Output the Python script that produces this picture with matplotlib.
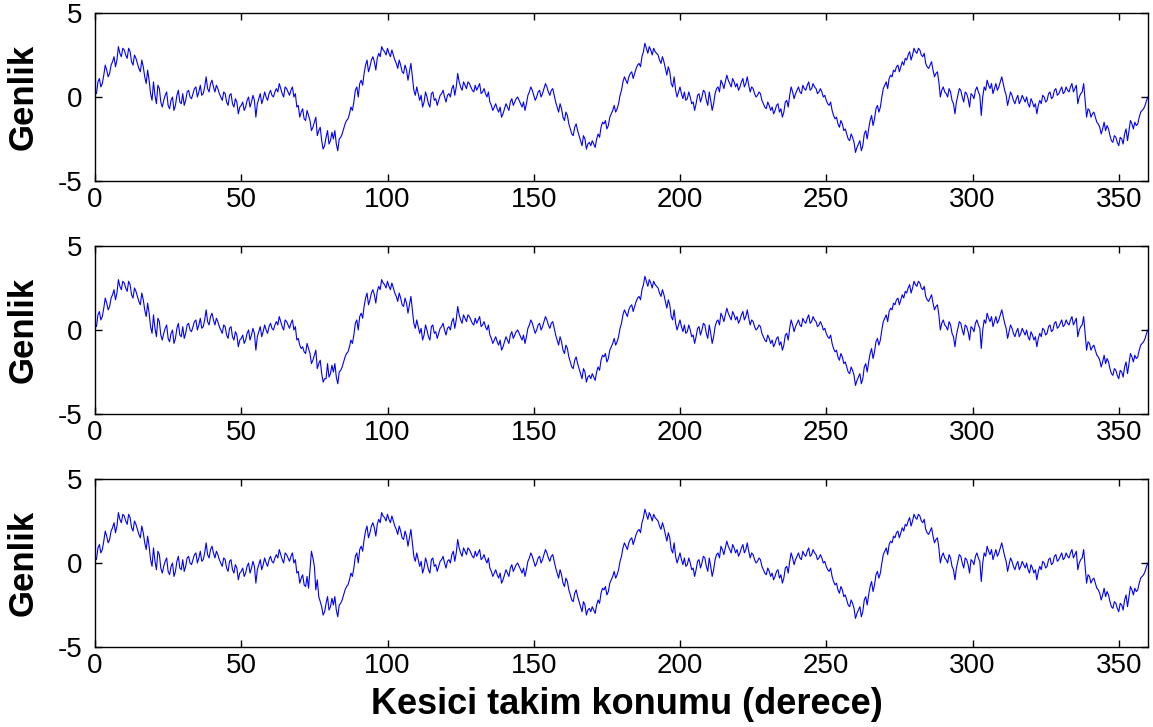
import matplotlib.pyplot as plt
import numpy as np

plt.rcParams['font.family'] = ['Liberation Sans', 'DejaVu Sans']
plt.rcParams['axes.unicode_minus'] = False

# amplitude at whole degrees 0..360
genlik_tam = [
    0.3, 0.9, 0.6, 1.3, 1.6, 1.4, 2.1, 1.8, 3.0, 2.4,
    2.8, 2.3, 2.7, 1.9, 2.3, 1.7, 2.2, 1.2, 1.6, 0.2,
    0.9, -0.4, 0.5, -0.6, 0.1, -0.5, -0.2, -0.8, 0.1, -0.3,
    0.2, -0.2, 0.4, -0.1, 0.5, 0.0, 0.7, 0.2, 1.2, 0.3,
    1.0, 0.3, 0.5, 0.0, 0.3, -0.3, 0.1, -0.4, -0.1, -1.0,
    -0.5, -0.8, -0.2, -0.6, 0.1, -1.2, -0.1, -0.4, 0.3, -0.2,
    0.4, 0.0, 0.5, 0.8, 0.2, 0.6, 0.3, 0.4, 0.0, -0.6,
    -1.2, -0.7, -1.4, -1.1, -2.0, -1.5, -2.3, -1.8, -3.1, -2.4,
    -2.8, -2.1, -2.0, -3.2, -2.4, -1.9, -1.4, -1.0, -0.8, 0.4,
    0.0, 1.0, 1.4, 2.2, 1.8, 2.4, 1.6, 2.6, 3.0, 2.7,
    2.9, 2.4, 2.5, 2.0, 2.2, 1.5, 1.9, 1.0, 2.0, 0.4,
    0.6, -0.2, -0.6, 0.3, -0.4, 0.2, -0.2, -0.5, 0.1, 0.4,
    -0.3, 0.2, 0.5, 0.1, 1.4, 0.6, 0.9, 0.5, 0.8, 0.4,
    0.7, 0.6, 0.2, 0.5, 0.0, -0.3, -0.8, -0.4, -0.9, -1.2,
    -0.7, -0.6, -0.3, -0.5, -0.1, -0.2, -0.6, -0.8, 0.1, 0.6,
    0.1, 0.0, 0.4, 0.2, 0.8, 0.3, 0.4, 0.1, -0.6, -0.4,
    -1.2, -0.9, -1.6, -2.2, -1.8, -2.0, -2.6, -2.3, -3.1, -2.7,
    -2.6, -3.0, -2.2, -1.8, -1.6, -1.9, -1.2, -0.8, -0.9, -0.4,
    0.4, 1.2, 0.8, 1.4, 1.1, 1.7, 2.0, 2.4, 3.2, 2.6,
    2.8, 2.9, 2.6, 2.2, 2.4, 1.7, 1.8, 0.8, 1.2, 0.0,
    0.6, -0.1, -0.2, 0.3, -0.4, -0.8, 0.1, -0.3, 0.4, -0.2,
    0.3, -0.8, 0.2, 0.6, 1.0, 0.5, 1.3, 0.8, 1.1, 0.6,
    0.4, 0.9, 0.6, 1.2, 0.3, 0.5, 0.0, 0.3, -0.2, -0.6,
    -0.3, -0.8, -1.0, -0.5, -0.9, -1.2, -0.3, -0.6, 0.6, -0.1,
    0.4, 0.3, 0.7, 0.4, 0.9, 0.5, 0.6, 0.2, 0.5, 0.0,
    -0.2, -0.5, -0.8, -1.3, -1.6, -1.4, -2.0, -2.2, -2.6, -2.4,
    -3.3, -2.8, -3.2, -2.2, -2.5, -1.4, -1.7, -0.7, -0.9, 0.0,
    0.7, 0.5, 1.3, 1.6, 1.8, 1.5, 2.1, 2.3, 2.5, 2.2,
    2.9, 2.6, 2.8, 2.4, 2.0, 1.7, 2.1, 1.2, 1.5, 0.0,
    0.6, 0.2, 0.5, -0.2, -1.0, 0.1, 0.4, -0.3, 0.2, -0.6,
    0.1, 0.4, 0.3, -1.1, 0.6, 1.0, 0.5, 0.2, 0.8, 0.6,
    1.2, 0.4, -0.5, 0.3, -0.2, -0.1, -0.4, 0.1, -0.3, -0.4,
    -0.1, -0.6, -1.0, -0.2, 0.1, -0.3, 0.2, -0.1, 0.4, 0.1,
    0.4, 0.2, 0.6, 0.3, 0.8, 0.5, -0.4, 0.2, 0.8, -1.2,
    -0.8, -1.0, -1.2, -1.6, -2.2, -1.5, -1.7, -2.3, -2.7, -2.4,
    -2.9, -2.5, -2.2, -2.6, -1.4, -1.9, -1.7, -1.2, -0.8, -0.5,
    0.0,
]

# amplitude at the half degrees 0.5..359.5 (the signal is sampled every 0.5 deg)
genlik_ara = [
    0.2, 1.1, 0.8, 1.9, 1.2, 1.9, 2.4, 2.2, 2.6, 2.9,
    2.5, 2.9, 2.1, 2.5, 2.0, 1.5, 1.8, 0.8, 1.0, -0.2,
    0.1, 0.7, -0.3, -0.2, 0.3, -0.7, 0.0, -0.5, 0.4, -0.4,
    -0.5, 0.3, 0.0, 0.2, 0.6, 0.3, 0.1, 0.6, 0.5, 0.8,
    0.6, 0.7, 0.2, -0.2, 0.2, -0.5, 0.2, -0.6, -0.3, -0.6,
    -0.3, -0.6, 0.0, -0.3, -0.2, -0.4, 0.2, -0.1, 0.0, 0.2,
    0.1, 0.3, 0.3, 0.5, 0.0, 0.5, 0.1, 0.6, 0.2, -0.5,
    -0.9, -1.3, -0.8, -1.4, -1.8, -1.2, -2.0, -2.6, -2.9, -2.0,
    -2.6, -2.5, -2.8, -2.5, -2.2, -1.6, -1.3, -0.6, -0.3, 0.6,
    0.8, 0.7, 1.9, 1.5, 2.2, 2.1, 2.3, 2.4, 2.8, 2.5,
    2.6, 2.8, 2.2, 1.7, 1.9, 1.4, 1.6, 1.5, 1.2, 0.1,
    0.2, 0.1, -0.3, 0.0, -0.6, 0.3, -0.1, -0.2, 0.2, 0.0,
    0.1, 0.0, 0.7, 0.6, 0.9, 0.4, 0.7, 0.9, 0.6, 0.3,
    0.4, 0.8, 0.3, 0.2, 0.3, -0.5, -0.6, -0.7, -0.6, -1.0,
    -0.4, -0.8, -0.1, -0.3, 0.0, -0.4, -0.3, -0.4, 0.3, 0.4,
    -0.2, 0.3, 0.0, 0.5, 0.6, 0.1, 0.5, -0.3, -0.9, -0.7,
    -1.4, -1.1, -1.9, -2.3, -1.6, -2.3, -2.9, -2.5, -2.8, -2.9,
    -2.8, -2.5, -2.4, -1.5, -1.4, -1.7, -1.0, -0.5, -0.7, 0.1,
    0.9, 1.0, 1.2, 1.5, 1.4, 1.9, 1.8, 2.7, 2.9, 3.0,
    2.5, 2.7, 2.5, 2.0, 2.1, 1.3, 1.5, 0.6, 0.4, 0.3,
    0.2, 0.3, -0.1, 0.0, -0.3, -0.4, 0.2, 0.0, 0.3, -0.5,
    -0.2, -0.4, 0.5, 0.3, 0.8, 0.9, 1.0, 0.6, 0.9, 0.8,
    0.6, 1.1, 0.8, 0.7, 0.6, 0.2, 0.1, 0.2, -0.4, -0.7,
    -0.5, -0.6, -0.8, -0.4, -0.7, -0.9, -0.2, 0.1, 0.3, 0.2,
    0.6, 0.2, 0.5, 0.7, 0.4, 0.8, 0.5, 0.3, 0.3, 0.1,
    -0.4, -0.3, -1.1, -1.2, -1.8, -1.6, -1.9, -2.5, -2.2, -2.7,
    -3.0, -2.6, -2.9, -2.0, -1.9, -1.1, -1.3, -0.5, -0.6, 0.5,
    0.9, 1.1, 1.2, 1.5, 1.9, 1.8, 1.9, 2.2, 2.7, 2.5,
    2.7, 2.9, 2.5, 2.6, 1.8, 1.9, 1.6, 1.4, 0.9, 0.4,
    0.3, 0.0, 0.3, -0.4, -0.3, 0.5, 0.0, 0.3, -0.1, 0.2,
    -0.1, 0.6, 0.1, 0.0, 0.4, 0.7, 0.8, 0.5, 0.4, 0.9,
    0.8, 0.1, -0.1, 0.1, -0.4, 0.1, -0.2, -0.1, 0.0, -0.6,
    -0.3, -0.4, -0.5, -0.4, 0.0, -0.2, 0.3, 0.0, 0.5, 0.2,
    0.6, 0.3, 0.4, 0.6, 0.3, 0.7, 0.0, 0.3, -0.2, -0.7,
    -1.2, -0.9, -1.5, -1.8, -1.9, -2.0, -1.9, -2.6, -2.3, -2.7,
    -2.4, -2.8, -1.9, -2.0, -1.6, -1.5, -1.6, -0.9, -0.7, -0.2,
]

# the middle and bottom panels differ from the top one only at a few angles
farklar_2 = {70.0: -0.9, 70.5: -1.1, 71.0: -1.0, 79.0: -2.9}
farklar_3 = {73.0: -1.5, 73.5: -0.4, 74.0: 0.7, 74.5: 0.3, 75.0: -0.2,
             75.5: -1.6, 76.0: -1.0, 76.5: -2.0, 77.0: -2.3}

xticks = [0, 50, 100, 150, 200, 250, 300, 350]
yticks = [-5, 0, 5]

derece = np.arange(0, 360.5, 0.5)
genlik_1 = np.empty(len(derece))
genlik_1[0::2] = genlik_tam
genlik_1[1::2] = genlik_ara

genlik_2 = genlik_1.copy()
for d, v in farklar_2.items():
    genlik_2[int(d * 2)] = v
genlik_3 = genlik_1.copy()
for d, v in farklar_3.items():
    genlik_3[int(d * 2)] = v

fig = plt.figure(figsize=(11.53, 7.27), dpi=100)

left = 95 / 1153
width = (1148 - 95) / 1153
tops = [13, 246, 479]
h = 168

for top, y in zip(tops, [genlik_1, genlik_2, genlik_3]):
    ax = fig.add_axes([left, 1 - (top + h) / 727, width, h / 727])
    ax.plot(derece, y, color='#0000ff', linewidth=0.8)
    ax.set_xlim(0, 360)
    ax.set_ylim(-5, 5)
    ax.set_xticks(xticks)
    ax.set_yticks(yticks)
    ax.tick_params(direction='in', length=5, width=1, top=True, right=True,
                   labelsize=20)
    ax.tick_params(axis='x', pad=4)
    ax.tick_params(axis='y', pad=9)
    for s in ax.spines.values():
        s.set_linewidth(1.0)
    ax.set_ylabel('Genlik', fontsize=25, fontweight='bold')
    ax.yaxis.set_label_coords(-0.053, 0.5)

fig.text(627 / 1153, 1 - 705 / 727, 'Kesici takim konumu (derece)',
         ha='center', va='center', fontsize=26, fontweight='bold')

fig.savefig('out.png', dpi=100)
